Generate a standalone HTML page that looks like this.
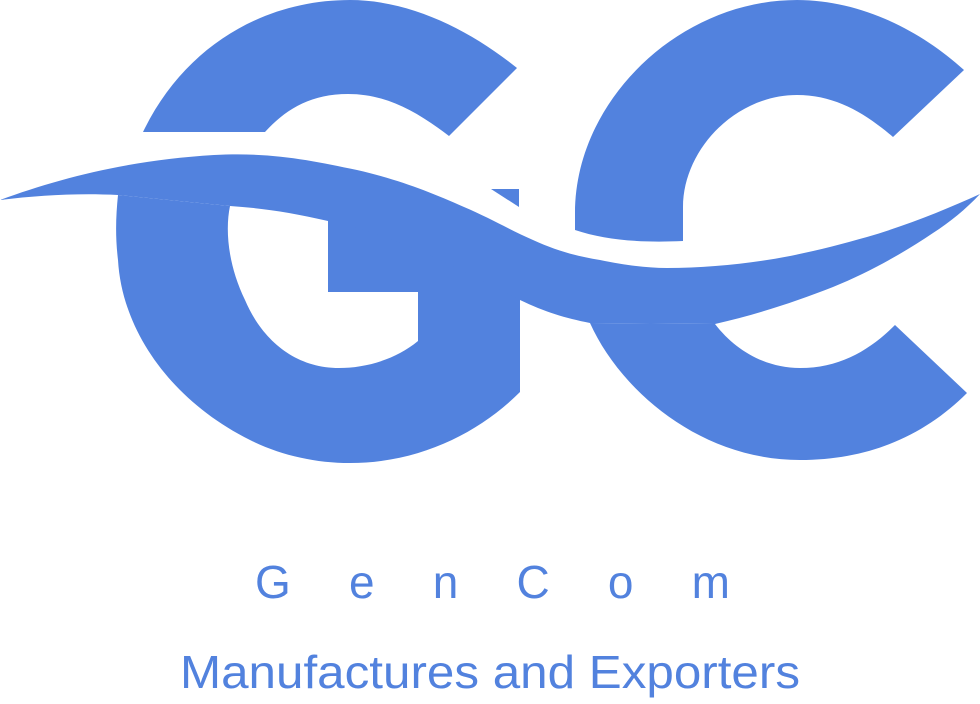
<!DOCTYPE html>
<html><head><meta charset="utf-8"><style>
html,body{margin:0;padding:0;background:#fff;}
svg{display:block;}
</style></head><body>
<svg width="980" height="704" viewBox="0 0 980 704">
  <g fill="#5282DE">
    <path d="M143,132 C185,45 265,0 350,0 C410,0 470,30 517,68 L449,136 C415,110 385,94 348,94 C310,94 285,110 265,132 Z"/>
    <path d="M118,195 C116,215 115,235 118,260 C122,330 170,400 250,440 C280,455 315,463 350,463 C420,463 480,432 520,392 L520,240 L328,205 L328,292 L418,292 L418,341 C395,360 365,368 339,368 C295,368 262,340 245,300 C228,265 225,230 230,206 Z"/>
    <path d="M491,189 L519,189 L519,207 Z"/>
    <path d="M575,230 L575,213 C575,100 680,0 797,0 C860,0 920,30 964,70 L893,137 C865,113 835,95 797,95 C735,95 683,150 683,207 L683,241 C640,243 605,240 575,230 Z"/>
    <path d="M590,323 C620,390 700,460 800,460 C870,460 925,435 967,393 L895,325 C870,350 840,368 800,368 C765,368 735,350 715,324 Z"/>
    <path
      d="M0,200 C60,178 130,160 214,155 C270,152 310,160 357,170 C400,180 430,192 464,207 C490,218 510,230 533,240 C555,250 575,256 600,260 C625,265 645,268 667,268 C700,268 735,265 767,260 C800,255 835,246 867,237 C905,226 945,210 980,194 C965,210 950,222 933,233 C905,252 870,272 833,287 C795,302 755,315 715,324 L590,323 C565,318 545,312 520,300 C470,275 400,235 328,221 C290,212 260,208 230,206 L118,195 C80,193 40,195 0,200 Z"/>
  </g>
  <text x="255" y="598" font-family="Liberation Sans, sans-serif" font-size="46" fill="#5282DE" textLength="475" lengthAdjust="spacing">G e n C o m</text>
  <text x="180" y="688" font-family="Liberation Sans, sans-serif" font-size="46" fill="#5282DE" textLength="620" lengthAdjust="spacingAndGlyphs">Manufactures and Exporters</text>
</svg>
</body></html>
